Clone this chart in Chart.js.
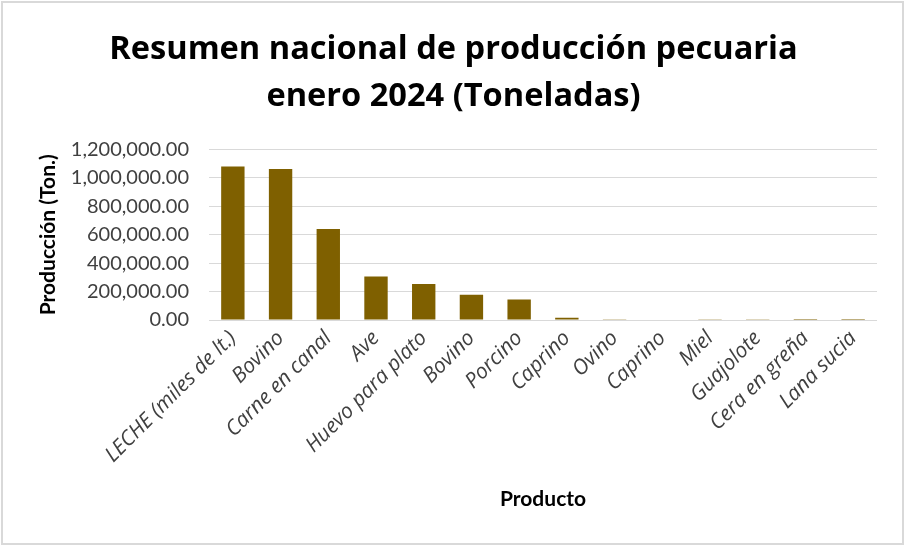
<!DOCTYPE html>
<html>
<head>
<meta charset="utf-8">
<script src="https://cdn.jsdelivr.net/npm/chart.js@4.4.1/dist/chart.umd.min.js"></script>
<style>
  html, body { margin: 0; padding: 0; background: #fff; }
  #wrap { width: 904px; height: 546px; position: relative; }
</style>
</head>
<body>
<div id="wrap"><canvas id="myChart" width="904" height="546"></canvas></div>
<script>
// datos (toneladas)
const productos = ["LECHE (miles de lt.)", "Bovino", "Carne en canal", "Ave", "Huevo para plato", "Bovino", "Porcino", "Caprino", "Ovino", "Caprino", "Miel", "Guajolote", "Cera en greña", "Lana sucia"];
const produccion = [1080000, 1063000, 640000, 306000, 254000, 178000, 144500, 16000, 5000, 3500, 2000, 1500, 200, 300];
const yTicks = [0, 200000, 400000, 600000, 800000, 1000000, 1200000];

const tituloLineas = ["Resumen nacional de producción pecuaria", "enero 2024 (Toneladas)"];
const fuente = "Lato, 'Open Sans', sans-serif";
const fuenteTitulo = "'Open Sans', Lato, sans-serif";
const gris = "#404040";

const borde = {
  id: "borde",
  beforeDraw(chart) {
    const c = chart.ctx;
    c.save();
    c.fillStyle = "#fff";
    c.fillRect(0, 0, chart.width, chart.height);
    c.strokeStyle = "#d9d9d9";
    c.lineWidth = 2;
    c.strokeRect(2, 2, chart.width - 3, chart.height - 4);
    c.restore();
  }
};

const ctx = document.getElementById("myChart").getContext("2d");
const myChart = new Chart(ctx, {
  type: "bar",
  data: {
    labels: productos,
    datasets: [{
      data: produccion,
      backgroundColor: "#7F6000",
      borderWidth: 0,
      categoryPercentage: 1,
      barPercentage: 0.49,
    }],
  },
  options: {
    responsive: false,
    animation: false,
    layout: { padding: { top: 0, left: 30, right: 27, bottom: 10 } },
    plugins: {
      legend: { display: false },
      tooltip: { enabled: false },
      title: {
        display: true,
        text: tituloLineas,
        color: "#000",
        font: { family: fuenteTitulo, size: 32.6, weight: "bold", lineHeight: 1.45 },
        padding: { top: 26, bottom: 29 },
      },
    },
    scales: {
      x: {
        grid: { display: false, drawTicks: false },
        border: { display: false },
        ticks: {
          color: gris,
          autoSkip: false,
          maxRotation: 45,
          minRotation: 45,
          padding: 6,
          font: { family: fuenteTitulo, size: 21, style: "italic" },
        },
        title: {
          display: true,
          text: "Producto",
          color: "#000",
          font: { family: fuente, size: 21, weight: "bold" },
          padding: { top: 0, bottom: 24 },
        },
        afterFit(scale) { scale.height = 216; },
      },
      y: {
        min: 0,
        max: 1200000,
        grid: { color: "#d9d9d9", lineWidth: 1, drawTicks: false },
        border: { display: false },
        afterBuildTicks(scale) { scale.ticks = yTicks.map(v => ({ value: v })); },
        ticks: {
          color: gris,
          padding: 20,
          font: { family: fuente, size: 20 },
          callback: v => v.toLocaleString("en-US", { minimumFractionDigits: 2, maximumFractionDigits: 2 }),
        },
        title: {
          display: true,
          text: "Producción (Ton.)",
          color: "#000",
          font: { family: fuente, size: 21, weight: "bold" },
          padding: { top: 6, bottom: 0 },
        },
        afterFit(scale) { scale.width = 179; },
      },
    },
  },
  plugins: [borde],
});
</script>
</body>
</html>
